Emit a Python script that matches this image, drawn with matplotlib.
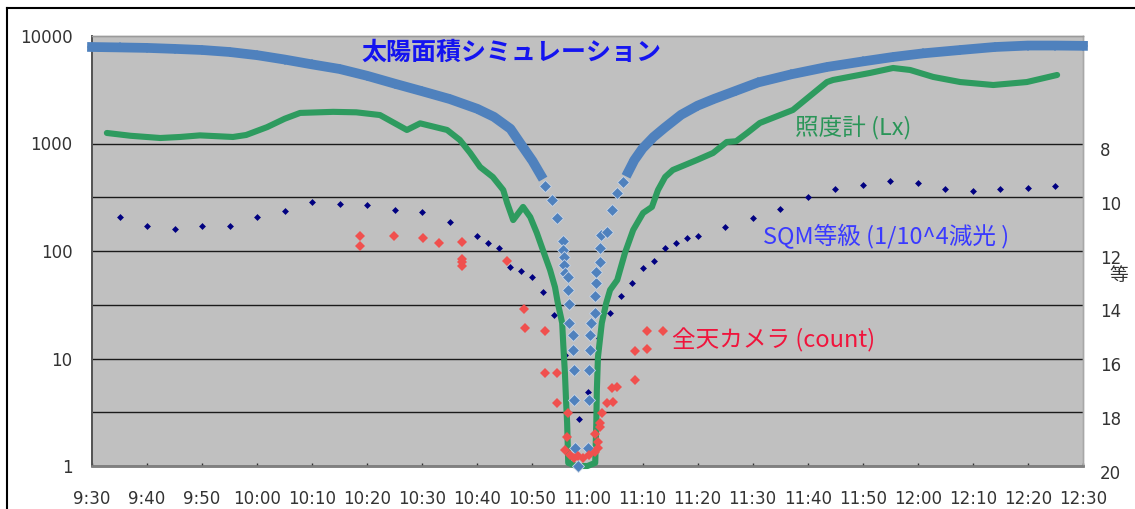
import matplotlib
matplotlib.use("Agg")
import matplotlib.pyplot as plt
import matplotlib.transforms as mtrans
from matplotlib.lines import Line2D

# ---------------- data (time = minutes after 9:30) ----------------
x_labels = ["9:30", "9:40", "9:50", "10:00", "10:10", "10:20", "10:30", "10:40",
            "10:50", "11:00", "11:10", "11:20", "11:30", "11:40", "11:50",
            "12:00", "12:10", "12:20", "12:30"]

# solar area simulation - dense band part (left / right branch)
sim_left_t = [0, 5, 10, 15, 20, 25, 30, 35, 40, 45, 50, 55, 60, 65, 70, 73, 76, 78, 80, 81.5]
sim_left_v = [7900, 7830, 7750, 7590, 7410, 7100, 6630, 6040, 5440, 4930, 4260, 3600,
              3060, 2590, 2100, 1770, 1370, 970, 690, 510]
sim_right_t = [97.4, 98.5, 100, 102, 104, 107, 110, 113, 117, 121, 127, 133.5, 140,
               145.5, 151, 157.7, 164, 170, 175, 180]
sim_right_v = [543, 700, 900, 1150, 1400, 1850, 2250, 2600, 3100, 3700, 4400, 5150,
               5800, 6380, 6900, 7410, 7900, 8150, 8150, 8100]
# solar area simulation - individual points near the eclipse maximum
sim_pt_t = [82.3, 83.6, 84.5, 85.5, 85.6, 85.7, 85.8, 85.9, 86.4, 86.5, 86.6, 86.7,
            87.3, 87.4, 87.5, 87.6, 87.7, 88.3, 90.1, 90.2, 90.3, 90.4, 90.5, 90.6,
            91.3, 91.4, 91.5, 91.6, 92.2, 92.3, 92.4, 93.5, 94.5, 95.4, 96.5]
sim_pt_v = [402, 298, 203, 124, 102, 88, 74, 62, 57, 43.4, 32.1, 21.4,
            16.6, 12.0, 7.8, 4.1, 1.47, 1.0, 1.47, 4.1, 7.8, 12.0, 16.6, 21.4,
            26.5, 38, 50, 64, 79, 107, 141, 150, 240, 347, 439]

# illuminance meter (Lx)
lux_t = [2.7, 7, 12.4, 16, 19.6, 25.6, 28, 31.8, 35, 37.8, 43.8, 48, 52.3, 57.2, 59.6,
         64.5, 66.8, 68.7, 70.5, 72.8, 74.7, 75.4, 76.5, 78.3, 79.6, 80.8, 81.9, 83.2,
         84.1, 84.6, 85.4, 85.6, 85.9, 86.1, 86.3, 86.5, 88, 90, 91.4, 91.6, 91.7, 91.9,
         92.6, 93.4, 94.1, 95.4, 96.8, 98.3, 100.1, 101.7, 102.8, 104.1, 105.5, 106.8,
         109.9, 112.8, 115.3, 117, 119, 121.3, 127.3, 133.5, 134.6, 141.3, 145.5, 148.6,
         152.8, 157.7, 163.7, 169.8, 175.3]
lux_v = [1253, 1180, 1125, 1150, 1190, 1150, 1200, 1420, 1700, 1925, 1970, 1950, 1840,
         1336, 1540, 1336, 1080, 816, 604, 488, 369, 280, 194, 257, 207, 147, 102, 66.6,
         46, 33, 21.4, 13.4, 7.3, 4.1, 2.5, 1.07, 1.0, 1.0, 1.07, 2.5, 5.1, 10.3,
         21.4, 32.8, 43.4, 53.7, 95.8, 157, 226, 257, 369, 488, 567, 604,
         703, 816, 1033, 1050, 1253, 1552, 2050, 3730, 3900, 4530, 5040, 4830,
         4160, 3730, 3500, 3730, 4340]

# SQM magnitude (right axis)
sqm_t = [5, 10, 15, 20, 25, 30, 35, 40, 45, 50, 55, 60, 65, 70, 72, 74, 76, 78, 80,
         82, 84, 86, 88.5, 90, 92, 94, 96, 98, 100, 102, 104, 106, 108, 110, 115, 120,
         125, 130, 135, 140, 145, 150, 155, 160, 165, 170, 175]
sqm_m = [10.74, 11.08, 11.19, 11.08, 11.08, 10.74, 10.52, 10.19, 10.26, 10.30, 10.48,
         10.56, 10.93, 11.45, 11.71, 11.90, 12.60, 12.75, 12.97, 13.53, 14.39, 15.87,
         18.25, 17.25, 15.24, 14.31, 13.68, 13.20, 12.64, 12.38, 11.90, 11.71, 11.52,
         11.45, 11.12, 10.78, 10.45, 10.00, 9.70, 9.55, 9.41, 9.48, 9.70, 9.78, 9.70,
         9.67, 9.59]

# all-sky camera (count)
cam_t = [48.7, 48.7, 54.9, 60.1, 63.0, 67.2, 67.2, 67.2, 67.2, 75.4, 78.5, 78.7, 82.3,
         82.3, 84.5, 84.5, 86.5, 86.3, 85.9, 86.8, 87.5, 88.3, 89.2, 90.3, 91.4, 91.9,
         91.9, 91.4, 92.3, 92.3, 92.6, 93.5, 94.6, 94.5, 95.4, 98.6, 98.6, 100.8, 100.8,
         103.7]
cam_v = [138, 111, 138, 132, 119, 121, 84, 79, 72.8, 81, 28.9, 19.2, 18.0,
         7.3, 7.3, 3.85, 3.1, 1.86, 1.41, 1.27, 1.19, 1.24, 1.19, 1.27, 1.35, 1.47,
         1.67, 1.98, 2.31, 2.51, 3.11, 3.85, 3.94, 5.3, 5.43, 6.3, 11.8, 12.2, 18.0,
         18.0]

mag_ticks = [8, 10, 12, 14, 16, 18, 20]

# ---------------- styling ----------------
C_SIM = "#4f81bd"
C_LUX = "#2e9b5f"
C_SQM = "#000080"
C_CAM = "#f0504e"
BG = "#c0c0c0"

plt.rcParams["font.family"] = ["DejaVu Sans"]
JP = ["Noto Sans CJK JP", "DejaVu Sans"]

W, H = 1135, 509
fig = plt.figure(figsize=(W / 100, H / 100), dpi=100)
L, R, T, B = 92, 1083, 36, 466
ax = fig.add_axes([L / W, (H - B) / H, (R - L) / W, (B - T) / H])
ax2 = ax.twinx()

# ax2 (right magnitude axis) sits below, carries background and grid
ax.set_zorder(ax2.get_zorder() + 1)
ax.patch.set_visible(False)
ax2.patch.set_visible(True)
ax2.patch.set_facecolor(BG)

ax.set_yscale("log")
ax.set_ylim(1, 10000)
ax.set_xlim(0, 180)
ax2.set_ylim(20, 4)

# gridlines from right axis ticks
ax2.set_yticks(mag_ticks)
ax2.set_yticklabels([str(m) for m in mag_ticks])
ax2.grid(axis="y", color="#1a1a1a", linewidth=1.0)
ax2.tick_params(axis="y", length=0, pad=12, labelsize=12, labelcolor="#333333")
off = mtrans.ScaledTranslation(0, -4 / 72, fig.dpi_scale_trans)
for lbl in ax2.get_yticklabels():
    lbl.set_transform(lbl.get_transform() + off)

ax.set_yticks([1, 10, 100, 1000, 10000])
ax.set_yticklabels(["1", "10", "100", "1000", "10000"])
ax.minorticks_off()
ax.tick_params(axis="y", which="both", length=0, pad=14, labelsize=12, labelcolor="#333333")

ax.set_xticks([i * 10 for i in range(len(x_labels))])
ax.set_xticklabels(x_labels)
ax.tick_params(axis="x", direction="in", length=2.5, width=1, color="#333333",
               pad=17, labelsize=12, labelcolor="#333333")

for a in (ax, ax2):
    a.spines["left"].set_color("#555555")
    a.spines["left"].set_linewidth(1.3)
    a.spines["bottom"].set_color("#808080")
    a.spines["bottom"].set_linewidth(1.8)
    a.spines["top"].set_color("#9a9a9a")
    a.spines["top"].set_linewidth(1.0)
    a.spines["right"].set_color("#a8a8a8")
    a.spines["right"].set_linewidth(1.0)

# SQM magnitude points (right axis)
ax2.plot(sqm_t, sqm_m, linestyle="none", marker="D", ms=3.5, color=C_SQM,
         mew=0, zorder=3, clip_on=False)

# simulation band
for tt, vv in ((sim_left_t, sim_left_v), (sim_right_t, sim_right_v)):
    ax.plot(tt, vv, color=C_SIM, lw=7.0, marker="D", ms=5.3, mew=0,
            solid_joinstyle="round", zorder=3, clip_on=False)
# illuminance line
ax.plot(lux_t, lux_v, color=C_LUX, lw=4.4, solid_joinstyle="round",
        solid_capstyle="round", zorder=4, clip_on=False)
# simulation discrete diamonds
ax.plot(sim_pt_t, sim_pt_v, linestyle="none", marker="D", ms=6.3, color=C_SIM,
        mec="#c9d5e6", mew=0.6, zorder=5, clip_on=False)
# all-sky camera
ax.plot(cam_t, cam_v, linestyle="none", marker="D", ms=4.6, color=C_CAM,
        mew=0, zorder=6, clip_on=False)

# annotations
ax.text(49.0, 6950, "太陽面積シミュレーション", family=JP, fontsize=18,
        fontweight="bold", color="#1414f0", ha="left", va="center", zorder=10)
ax.text(127.7, 1393, "照度計 (Lx)", family=JP, fontsize=17, color="#2a9558",
        ha="left", va="center", zorder=10)
ax.text(121.9, 136, "SQM等級 (1/10^4減光 )", family=JP, fontsize=17, color="#3a3aff",
        ha="left", va="center", zorder=10)
ax.text(105.4, 14.9, "全天カメラ (count)", family=JP, fontsize=17, color="#f0143c",
        ha="left", va="center", zorder=10)
fig.text(1119 / W, 1 - 275 / H, "等", family=JP, fontsize=13.5, color="#333333",
         ha="center", va="center")

# outer frame (left and top edge)
fig.add_artist(Line2D([7 / W, 7 / W], [0, 1 - 8 / H], color="black", lw=1.5))
fig.add_artist(Line2D([7 / W, 1], [1 - 8 / H, 1 - 8 / H], color="black", lw=1.5))

fig.savefig("out.png", dpi=100)
